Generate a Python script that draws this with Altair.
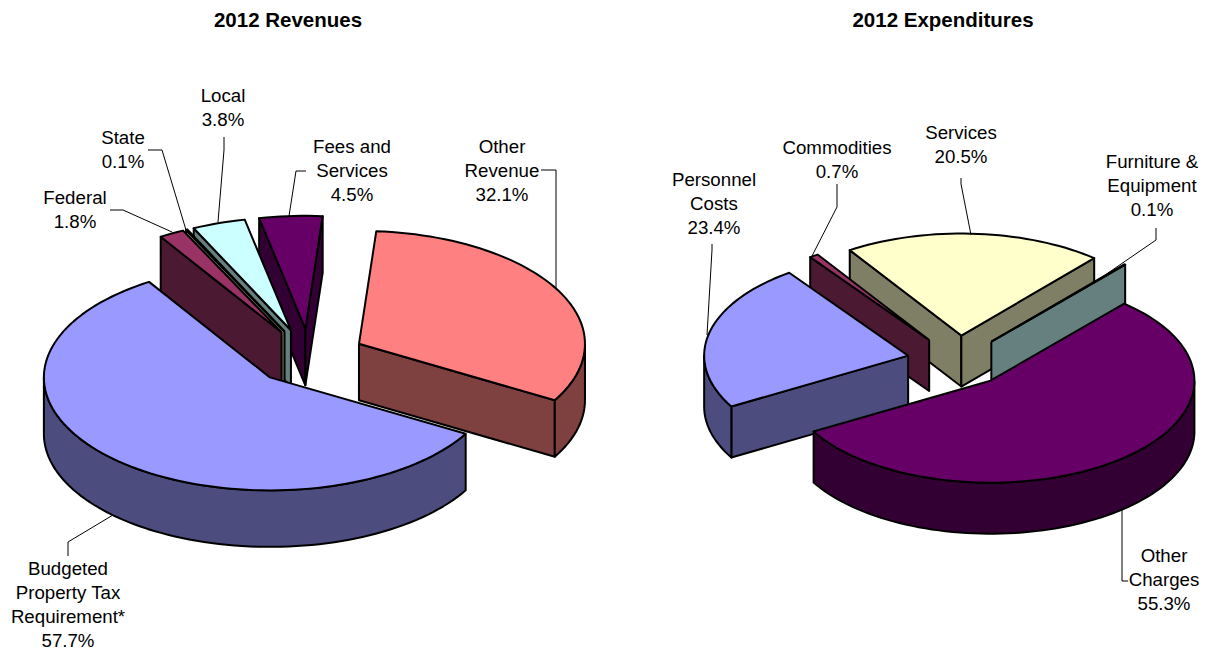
import math
import altair as alt
import pandas as pd

# ---- chart values ----
rev_names = ["Other Revenue", "Budgeted Property Tax Requirement*", "Federal", "State", "Local", "Fees and Services"]
rev_values = [32.1, 57.7, 1.8, 0.1, 3.8, 4.5]
rev_colors = ["#FF8080", "#9999FF", "#993366", "#FFFFCC", "#CCFFFF", "#660066"]
rev_paint = [5, 4, 3, 2, 0, 1]

exp_names = ["Other Charges", "Personnel Costs", "Commodities", "Services", "Furniture & Equipment"]
exp_values = [55.3, 23.4, 0.7, 20.5, 0.1]
exp_colors = ["#660066", "#9999FF", "#993366", "#FFFFCC", "#CCFFFF"]
exp_paint = [3, 2, 1, 4, 0]

titles = ["2012 Revenues", "2012 Expenditures"]

rev_labels = [
    (["Other", "Revenue", "32.1%"], 502, 147),
    (["Budgeted", "Property Tax", "Requirement*", "57.7%"], 68, 569),
    (["Federal", "1.8%"], 75, 198),
    (["State", "0.1%"], 123, 138),
    (["Local", "3.8%"], 223, 96),
    (["Fees and", "Services", "4.5%"], 352, 147),
]
exp_labels = [
    (["Other", "Charges", "55.3%"], 1164, 556),
    (["Personnel", "Costs", "23.4%"], 714, 180),
    (["Commodities", "0.7%"], 837, 148),
    (["Services", "20.5%"], 961, 133),
    (["Furniture &", "Equipment", "0.1%"], 1152, 162),
]
leaders = [
    [(541, 170), (556, 170), (556, 288)],
    [(68, 556), (68, 542), (113, 515)],
    [(110, 210), (123, 210), (172, 232)],
    [(148, 150), (162, 150), (186, 230)],
    [(224, 137), (224, 150), (218, 222)],
    [(306, 171), (296, 171), (289, 216)],
    [(1122, 510), (1122, 581), (1128, 581)],
    [(712, 244), (712, 250), (707, 335)],
    [(837, 184), (837, 207), (812, 256)],
    [(961, 178), (961, 184), (971, 235)],
    [(1156, 228), (1156, 240), (1092, 284)],
]


def rgb_half(c):
    return "#" + "".join("%02X" % (int(c[i:i + 2], 16) // 2) for i in (1, 3, 5))


def pie_polys(values, colors, paint, start, cx, cy, R):
    """Project the exploded 3-D pie implied by the shares into polygons."""
    ry, depth, expl = R * 0.5, R * 0.25, R * 0.25
    spans, a = [], start
    for v in values:
        spans.append((a, a + v * 3.6))
        a += v * 3.6
    pt = lambda ang, ox, oy, dz=0: (ox + R * math.sin(math.radians(ang)), oy - ry * math.cos(math.radians(ang)) + dz)
    polys = []
    for i in paint:
        a0, a1 = spans[i]
        mid = math.radians((a0 + a1) / 2)
        ox, oy = cx + expl * math.sin(mid), cy - expl * 0.5 * math.cos(mid)
        side = rgb_half(colors[i])
        parts = []
        for ang, off in ((a0, -90), (a1, 90)):
            if math.cos(math.radians(ang + off)) < 0:
                parts.append(([(ox, oy), pt(ang, ox, oy), pt(ang, ox, oy, depth), (ox, oy + depth)], side))
        for k in (0, 1):
            lo, hi = max(a0, 90 + 360 * k), min(a1, 270 + 360 * k)
            if hi > lo:
                n = max(2, int((hi - lo) / 2) + 2)
                angs = [lo + (hi - lo) * t / (n - 1) for t in range(n)]
                ring = [pt(x, ox, oy) for x in angs] + [pt(x, ox, oy, depth) for x in reversed(angs)]
                parts.append((ring, side))
        n = max(2, int((a1 - a0) / 2) + 2)
        top = [(ox, oy)] + [pt(a0 + (a1 - a0) * t / (n - 1), ox, oy) for t in range(n)]
        parts.append((top, colors[i]))
        polys.extend(parts)
    return polys


polys = pie_polys(rev_values, rev_colors, rev_paint, 4.4, 309, 357, 226) + \
        pie_polys(exp_values, exp_colors, exp_paint, 41.0, 958, 361, 204)

X = alt.Scale(domain=[8, 1200], nice=False, zero=False)
Y = alt.Scale(domain=[651, 8], nice=False, zero=False)
xe = lambda f="x": alt.X(f"{f}:Q", scale=X, axis=None)
ye = lambda f="y": alt.Y(f"{f}:Q", scale=Y, axis=None)

layers = []
for ring, col in polys:
    closed = ring + [ring[0]]
    df = pd.DataFrame({"x": [p[0] for p in closed], "y": [p[1] for p in closed], "o": range(len(closed))})
    layers.append(
        alt.Chart(df).mark_line(fill=col, stroke="black", strokeWidth=2, strokeJoin="round", clip=False)
        .encode(x=xe(), y=ye(), order="o:Q")
    )

for pts in leaders:
    df = pd.DataFrame({"x": [p[0] for p in pts], "y": [p[1] for p in pts], "o": range(len(pts))})
    layers.append(
        alt.Chart(df).mark_line(color="black", strokeWidth=1).encode(x=xe(), y=ye(), order="o:Q")
    )

rows = []
for lines, lx, ly in rev_labels + exp_labels:
    for j, t in enumerate(lines):
        rows.append({"t": t, "x": lx, "y": ly + j * 24})
layers.append(
    alt.Chart(pd.DataFrame(rows)).mark_text(font="Liberation Sans", fontSize=18.7, color="black", align="center", baseline="middle")
    .encode(x=xe(), y=ye(), text="t:N")
)
tdf = pd.DataFrame({"t": titles, "x": [288, 943], "y": [21, 21]})
layers.append(
    alt.Chart(tdf).mark_text(font="Liberation Sans", fontSize=20.5, fontWeight="bold", color="black", align="center", baseline="middle")
    .encode(x=xe(), y=ye(), text="t:N")
)

chart = alt.layer(*layers).properties(
    width=1192, height=643, padding=0, background="white",
    autosize=alt.AutoSizeParams(type="none"),
).configure_view(stroke=None)
chart.save("out.html", embed_options={"renderer": "svg", "actions": False})
